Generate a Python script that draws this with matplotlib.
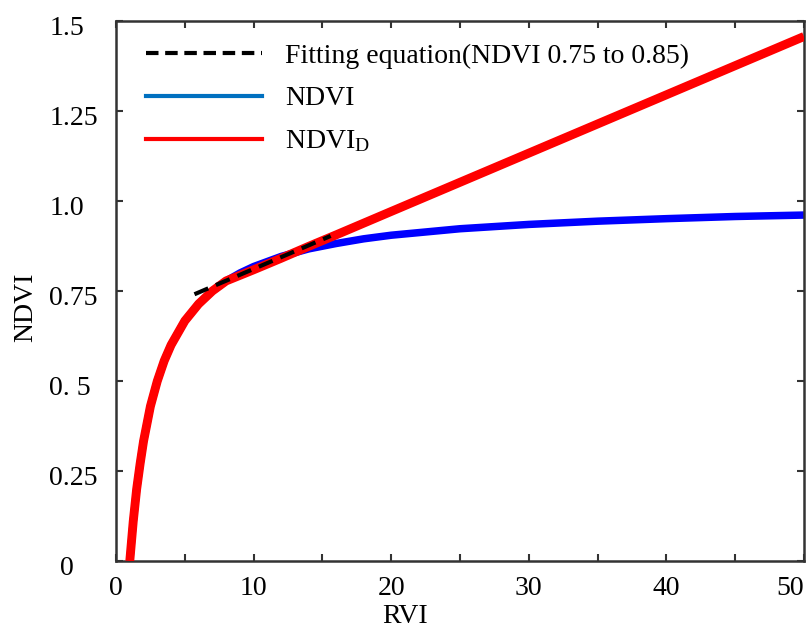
import matplotlib
matplotlib.use("Agg")
import matplotlib.pyplot as plt
from matplotlib.lines import Line2D
from matplotlib.transforms import ScaledTranslation

plt.rcParams["font.family"] = ["Liberation Serif", "DejaVu Serif"]
plt.rcParams["mathtext.fontset"] = "custom"
plt.rcParams["mathtext.rm"] = "Liberation Serif"
plt.rcParams["mathtext.it"] = "Liberation Serif:italic"

# NDVI vs RVI (standard curve)
rvi = [1, 1.25, 1.5, 1.75, 2, 2.5, 3, 3.5, 4, 5, 6, 7, 8, 9, 10, 12, 14, 16,
       18, 20, 25, 30, 35, 40, 45, 50]
ndvi = [0, 0.11, 0.20, 0.27, 0.333, 0.43, 0.50, 0.556, 0.60, 0.667, 0.714,
        0.75, 0.778, 0.80, 0.818, 0.846, 0.867, 0.882, 0.895, 0.905, 0.923,
        0.935, 0.944, 0.951, 0.957, 0.961]

# NDVI_D: follows NDVI at the low end, then continues linearly
rvi_d = [1, 1.25, 1.5, 1.75, 2, 2.5, 3, 3.5, 4, 5, 6, 7, 8, 10, 12, 14, 16,
         20, 30, 40, 50]
ndvi_d = [0, 0.11, 0.20, 0.27, 0.333, 0.43, 0.50, 0.556, 0.60, 0.667, 0.714,
          0.75, 0.778, 0.809, 0.841, 0.874, 0.906, 0.971, 1.133, 1.295, 1.457]

# fitted segment over NDVI 0.75 - 0.85
rvi_fit = [5.7, 15.6]
ndvi_fit = [0.741, 0.903]

x_ticks = [0, 10, 20, 30, 40, 50]
y_ticks = [0, 0.25, 0.5, 0.75, 1.0, 1.25, 1.5]
y_labels = ["0", "0.25", "0. 5", "0.75", "1.0", "1.25", "1.5"]

FS = 20

fig = plt.figure(figsize=(8.08, 6.35), dpi=100)
ax = fig.add_axes([0.1436, 0.1165, 0.8514, 0.8504])

ax.plot(rvi, ndvi, color="#0000ff", lw=5.4, solid_capstyle="butt", zorder=2)
ax.plot(rvi_d, ndvi_d, color="#ff0000", lw=6.4, solid_capstyle="butt", zorder=3)
ax.plot(rvi_fit, ndvi_fit, color="black", lw=3, dashes=(3.6, 2.0), zorder=4)

ax.set_xlim(0, 50)
ax.set_ylim(0, 1.5)
ax.set_xticks(x_ticks)
ax.set_xticks(range(5, 50, 10), minor=True)
ax.set_yticks(y_ticks)
ax.set_yticklabels(y_labels)

ax.tick_params(which="both", direction="in", top=True, right=True,
               length=5, width=1.5, color="#333333", labelsize=FS)
ax.tick_params(axis="x", pad=11)
ax.tick_params(axis="y", pad=48)
for sp in ax.spines.values():
    sp.set_linewidth(1.8)
    sp.set_color("#333333")

# y labels are left-aligned in a column; the lone "0" sits a bit further in
for lab in ax.get_yticklabels():
    lab.set_horizontalalignment("left")
    dx = 8 / 72 if lab.get_text() == "0" else 0
    lab.set_transform(lab.get_transform() + ScaledTranslation(dx, -3 / 72, fig.dpi_scale_trans))
ax.get_xticklabels()[-1].set_horizontalalignment("right")

ax.set_xlabel("RVI", fontsize=FS)
ax.xaxis.set_label_coords(0.42, -0.08)
ax.set_ylabel("NDVI", fontsize=FS)
ax.yaxis.set_label_coords(-0.113, 0.47)

handles = [
    Line2D([], [], color="black", lw=3, dashes=(3.0, 1.6)),
    Line2D([], [], color="#0070c0", lw=3),
    Line2D([], [], color="#ff0000", lw=3),
]
labels = ["Fitting equation(NDVI 0.75 to 0.85)", "NDVI", r"NDVI$_\mathrm{D}$"]
ax.legend(handles, labels, loc="upper left", bbox_to_anchor=(0.011, 1.0),
          frameon=False, fontsize=FS, handlelength=4.2, handletextpad=0.82,
          labelspacing=0.62, borderpad=0.4, borderaxespad=0.4)

fig.savefig("out.png", dpi=100)
